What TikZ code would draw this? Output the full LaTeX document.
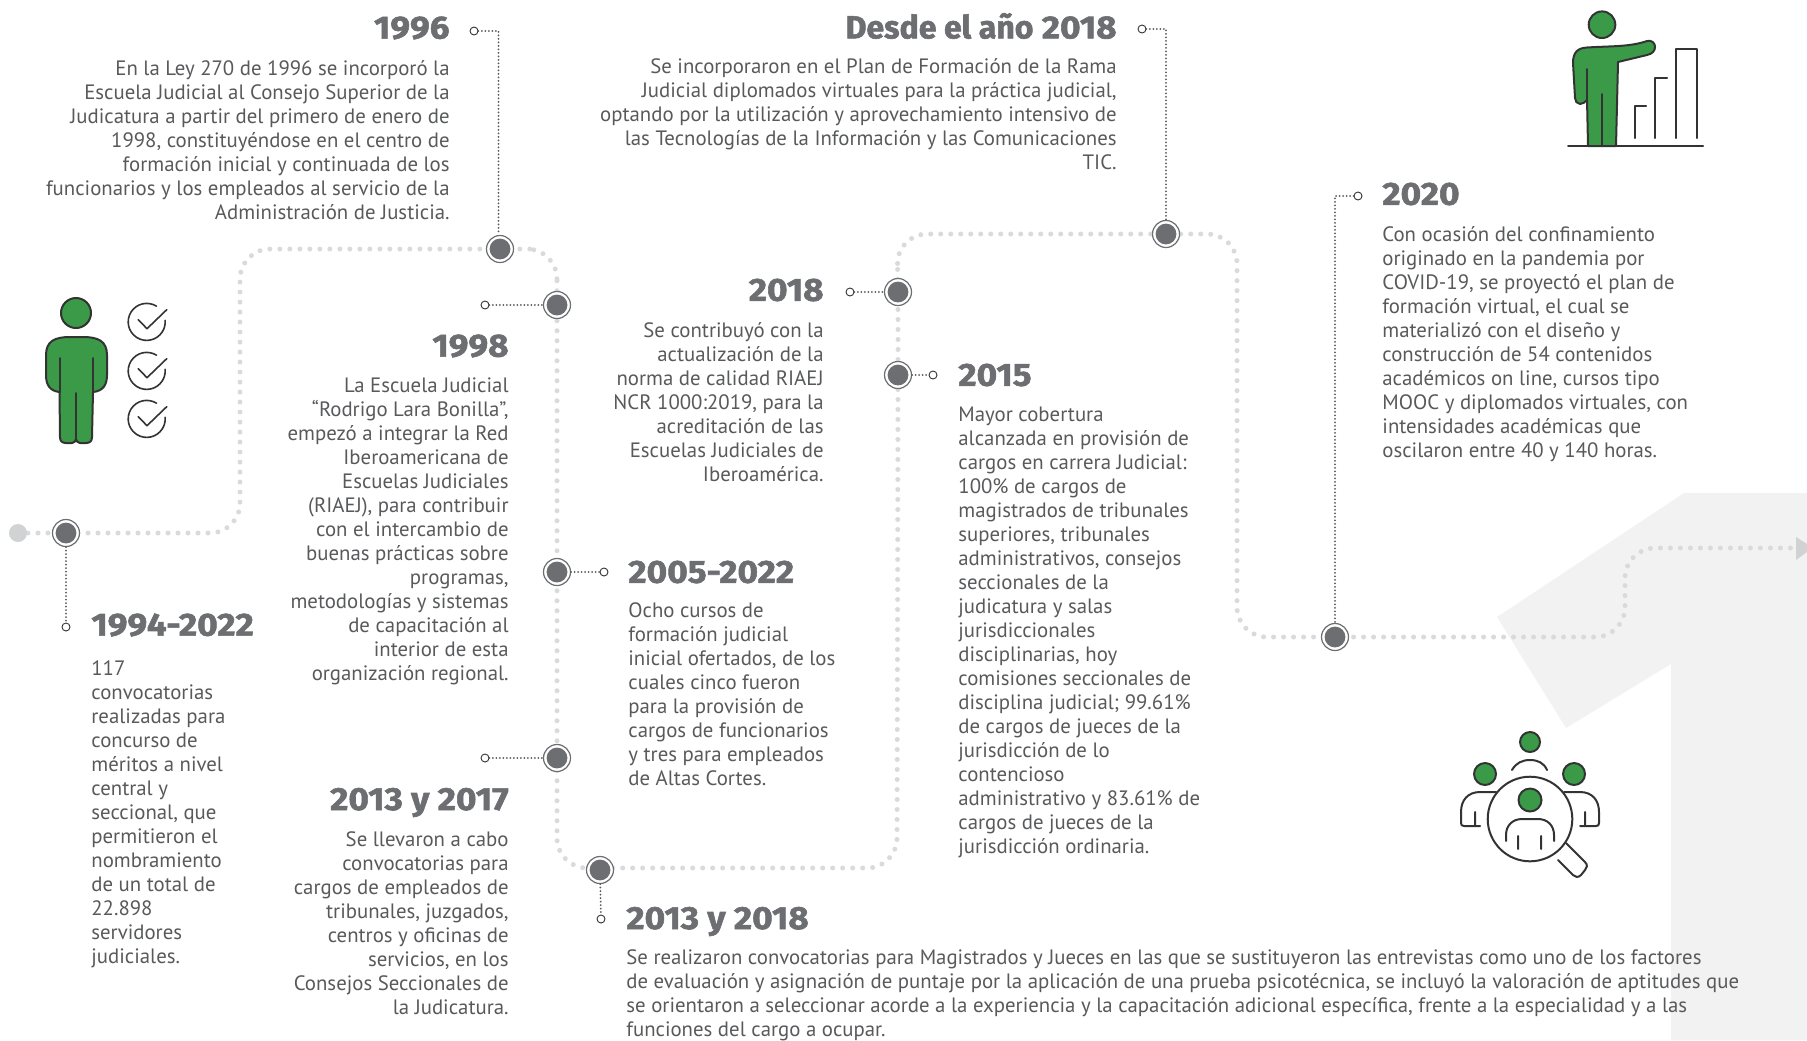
\documentclass[tikz,border=0pt]{standalone}
\usepackage{fontspec}
\setmainfont{PT Sans}
\newfontfamily\headfont[FakeBold=1.8,FakeStretch=1.1]{Fira Sans Bold}
\newfontfamily\headwords[FakeBold=1.8]{Fira Sans Bold}
\usetikzlibrary{backgrounds}
\definecolor{txt}{HTML}{58595B}
\definecolor{head}{HTML}{6D6E71}
\definecolor{dark}{HTML}{6D6E71}
\definecolor{via}{HTML}{D9DADB}
\definecolor{start}{HTML}{D1D2D4}
\definecolor{bg}{HTML}{F2F2F2}
\definecolor{icongreen}{HTML}{3A9A47}
\definecolor{ink}{HTML}{333333}
\tikzset{
  x=0.5pt,y=-0.5pt,
  para/.style={inner sep=0pt,text=txt,font=\fontsize{10.4}{12}\selectfont},
  pararight/.style={para,align=right,anchor=north east},
  paraleft/.style={para,align=left,anchor=north west},
  headright/.style={inner sep=0pt,text=head,anchor=east,font=\headfont\fontsize{16}{18}\selectfont},
  headleft/.style={inner sep=0pt,text=head,anchor=west,font=\headfont\fontsize{16}{18}\selectfont},
  hito/.style={circle,draw=dark,line width=0.6pt,fill=white,minimum size=13.5pt,inner sep=0pt,
    path picture={\fill[dark] (path picture bounding box.center) circle (5.2pt);}},
  ring/.style={circle,draw=ink,fill=white,line width=0.45pt,minimum size=4pt,inner sep=0pt},
  viapath/.style={draw=via,line width=2.5pt,line cap=round,dash pattern=on 0pt off 5pt,rounded corners=15pt},
  conn/.style={draw=txt,line width=1pt,line cap=round,dash pattern=on 0pt off 1.75pt},
  iconfill/.style={draw=ink,fill=icongreen,line width=1pt,line join=round},
  iconline/.style={draw=ink,line width=1pt,line cap=round,line join=round},
}
\begin{document}
\begin{tikzpicture}
\useasboundingbox (0,0) rectangle (1807,1040);

% milestones
\node[circle,fill=start,minimum size=9pt,inner sep=0pt] (inicio) at (18,533) {};
\node[hito] (h1994) at (66,533) {};
\node[hito] (h1996) at (500,249) {};
\node[hito] (h1998) at (557,305) {};
\node[hito] (h2005) at (557,572) {};
\node[hito] (h2013a) at (557,758) {};
\node[hito] (h2013b) at (600,870) {};
\node[hito] (h2018) at (898,292) {};
\node[hito] (h2015) at (898,375) {};
\node[hito] (h2018d) at (1166,234) {};
\node[hito] (h2020) at (1335,637) {};
\coordinate (fin) at (1796,548);
\fill[start] (1796,537) -- (1807,544) -- (1807,552) -- (1796,560) -- cycle;

% rings
\node[ring] (r1994) at (66,627) {};
\node[ring] (r1996) at (474,31) {};
\node[ring] (r1998) at (485,305) {};
\node[ring] (r2005) at (604,572) {};
\node[ring] (r2013a) at (485,758) {};
\node[ring] (r2013b) at (601,919) {};
\node[ring] (r2018) at (850,292) {};
\node[ring] (r2015) at (933,375) {};
\node[ring] (r2018d) at (1142,29) {};
\node[ring] (r2020) at (1358,196) {};
\coordinate (c1996) at (498.5,31);

\begin{pgfonlayer}{background}
% big background numeral
\fill[bg] (1684,493) -- (1807,493) -- (1807,1040) -- (1671,1040) -- (1671,664) -- (1566,728) -- (1497,617) -- cycle;
\path[viapath] (inicio.center) -- (h1994.center) -- (240,533) -- (240,249) -- (h1996.center) -- (557,249) -- (h1998.center) -- (h2005.center) -- (h2013a.center) -- (557,868) -- (897,868) -- (h2015.center) -- (h2018.center) -- (897,234) -- (h2018d.center) -- (1237,234) -- (1237,637) -- (h2020.center) -- (1625,637) -- (1625,548) -- (fin);
\end{pgfonlayer}

% connectors
\path[conn] (h1994) -- (r1994);
\path[conn] (r1996) -- (c1996) -- (c1996 |- h1996.north);
\path[conn] (r1998) -- (h1998);
\path[conn] (h2005) -- (r2005);
\path[conn] (r2013a) -- (h2013a);
\path[conn] (h2013b) -- (r2013b);
\path[conn] (r2018) -- (h2018);
\path[conn] (h2015) -- (r2015);
\path[conn] (r2018d) -- (h2018d.center |- r2018d) -- (h2018d);
\path[conn] (r2020) -- (h2020.center |- r2020) -- (h2020);

% texts
\node[headright] (t1996) at (450,28) {1996};
\node[pararight] (p1996) at (450,60) {En la Ley 270 de 1996 se incorporó la\\Escuela Judicial al Consejo Superior de la\\Judicatura a partir del primero de enero de\\1998, constituyéndose en el centro de\\formación inicial y continuada de los\\funcionarios y los empleados al servicio de la\\Administración de Justicia.};
\node[headright] (t2018d) at (1117,26) {{\headwords Desde el año} 2018};
\node[pararight] (p2018d) at (1117,58) {Se incorporaron en el Plan de Formación de la Rama\\Judicial diplomados virtuales para la práctica judicial,\\optando por la utilización y aprovechamiento intensivo de\\las Tecnologías de la Información y las Comunicaciones\\TIC.};
\node[headleft] (t2020) at (1382,194) {2020};
\node[paraleft] (p2020) at (1382,226) {Con ocasión del confinamiento\\originado en la pandemia por\\COVID-19, se proyectó el plan de\\formación virtual, el cual se\\materializó con el diseño y\\construcción de 54 contenidos\\académicos on line, cursos tipo\\MOOC y diplomados virtuales, con\\intensidades académicas que\\oscilaron entre 40 y 140 horas.};
\node[headright] (t1998) at (509,346) {1998};
\node[pararight] (p1998) at (509,377) {La Escuela Judicial\\“Rodrigo Lara Bonilla”,\\empezó a integrar la Red\\Iberoamericana de\\Escuelas Judiciales\\(RIAEJ), para contribuir\\con el intercambio de\\buenas prácticas sobre\\programas,\\metodologías y sistemas\\de capacitación al\\interior de esta\\organización regional.};
\node[headright] (t2018) at (824,290) {2018};
\node[pararight] (p2018) at (824,322) {Se contribuyó con la\\actualización de la\\norma de calidad RIAEJ\\NCR 1000:2019, para la\\acreditación de las\\Escuelas Judiciales de\\Iberoamérica.};
\node[headleft] (t2015) at (958,375) {2015};
\node[paraleft] (p2015) at (958,407) {Mayor cobertura\\alcanzada en provisión de\\cargos en carrera Judicial:\\100\% de cargos de\\magistrados de tribunales\\superiores, tribunales\\administrativos, consejos\\seccionales de la\\judicatura y salas\\jurisdiccionales\\disciplinarias, hoy\\comisiones seccionales de\\disciplina judicial; 99.61\%\\de cargos de jueces de la\\jurisdicción de lo\\contencioso\\administrativo y 83.61\% de\\cargos de jueces de la\\jurisdicción ordinaria.};
\node[headleft] (t2005) at (628,572) {2005-2022};
\node[paraleft] (p2005) at (628,602) {Ocho cursos de\\formación judicial\\inicial ofertados, de los\\cuales cinco fueron\\para la provisión de\\cargos de funcionarios\\y tres para empleados\\de Altas Cortes.};
\node[headleft] (t1994) at (91,625) {1994-2022};
\node[paraleft] (p1994) at (91,660) {117\\convocatorias\\realizadas para\\concurso de\\méritos a nivel\\central y\\seccional, que\\permitieron el\\nombramiento\\de un total de\\22.898\\servidores\\judiciales.};
\node[headright] (t2013a) at (509,802.5) {2013 y 2017};
\node[pararight] (p2013a) at (509,831) {Se llevaron a cabo\\convocatorias para\\cargos de empleados de\\tribunales, juzgados,\\centros y oficinas de\\servicios, en los\\Consejos Seccionales de\\la Judicatura.};
\node[headleft] (t2013b) at (626,921.5) {2013 y 2018};
\node[paraleft] (p2013b) at (626,949) {Se realizaron convocatorias para Magistrados y Jueces en las que se sustituyeron las entrevistas como uno de los factores\\de evaluación y asignación de puntaje por la aplicación de una prueba psicotécnica, se incluyó la valoración de aptitudes que\\se orientaron a seleccionar acorde a la experiencia y la capacitación adicional específica, frente a la especialidad y a las\\funciones del cargo a ocupar.};

% icon: person with checks
\path[iconfill] (76,313) circle[radius=15];
\path[iconfill] (59.5,392) .. controls (50,391) and (46,385) .. (46,375) -- (46,355) .. controls (46,341) and (55,337) .. (70,337) -- (83,337) .. controls (98,337) and (107,341) .. (107,355) -- (107,375) .. controls (107,385) and (103,391) .. (93,392) -- (92,437) .. controls (92,441) and (90,443) .. (86,443) -- (80,443) .. controls (78,443) and (76,441) .. (76,439) .. controls (76,441) and (74,443) .. (72,443) -- (66,443) .. controls (62,443) and (60,441) .. (60,437) -- cycle;
\path[iconline] (59.5,358) -- (59.5,392) (93,358) -- (93,392) (76,393) -- (76,439);
\foreach \cy/\nm in {322/a,371/b,419/c}{
  \path[iconline,line width=0.8pt] (147,\cy)+(9.5,-15.8) arc[start angle=-58,end angle=-365,radius=18.5];
  \path[iconline,line width=0.8pt] (138.3,\cy-2.3) -- (147,\cy+6.7) -- (166.7,\cy-12.3);
}

% icon: pointing person with bars
\path[iconfill] (1602,24.7) circle[radius=13.3];
\path[iconfill] (1588,146) -- (1587,100) .. controls (1585,102) and (1583,104) .. (1580,104) .. controls (1577,104) and (1575,101) .. (1575,98) -- (1573,63) .. controls (1573,53) and (1577,48) .. (1587,47.5) .. controls (1610,46) and (1630,47) .. (1647,41) .. controls (1652,40) and (1655,43) .. (1655,47) .. controls (1655,51) and (1652,54) .. (1647,55) -- (1618,62) -- (1616,146) -- cycle;
\path[iconline] (1587,69) -- (1587,100) (1602,94) -- (1602,146) (1568,146) -- (1703,146);
\path[iconline] (1635,138) -- (1635,106) -- (1646,106) (1655,138) -- (1655,78) -- (1667,78) (1676,138) -- (1676,49) -- (1697,49) -- (1697,138);

% icon: people with magnifier
\path[iconfill] (1530,742) circle[radius=10];
\path[iconfill] (1485,774) circle[radius=11];
\path[iconfill] (1574,774) circle[radius=11];
\path[iconfill] (1530,800) circle[radius=11.5];
\path[iconline] (1530,819) circle[radius=42.3];
\path[iconline] (1512,770) .. controls (1516,763) and (1522,760) .. (1530,760) .. controls (1538,760) and (1544,763) .. (1547,770);
\path[iconline] (1496,792) -- (1480,792) .. controls (1468,792) and (1461,800) .. (1461,812) -- (1461,823) .. controls (1461,825) and (1462,826) .. (1464,826) -- (1480,826) (1475,812) -- (1475,826);
\path[iconline] (1564,792) -- (1580,792) .. controls (1592,792) and (1599,800) .. (1599,812) -- (1599,823) .. controls (1599,825) and (1598,826) .. (1596,826) -- (1580,826) (1585,812) -- (1585,826);
\path[iconline] (1506,841) -- (1506,835) .. controls (1506,825) and (1513,819) .. (1522,819) -- (1538,819) .. controls (1547,819) and (1554,825) .. (1554,835) -- (1554,841) (1518,836) -- (1518,849) (1541,836) -- (1541,849);
\path[iconline] (1566,843) -- (1585,862) .. controls (1588,865) and (1587,868) .. (1585,870) -- (1581,875) .. controls (1578,878) and (1575,877) .. (1573,875) -- (1558,860);
\end{tikzpicture}
\end{document}
